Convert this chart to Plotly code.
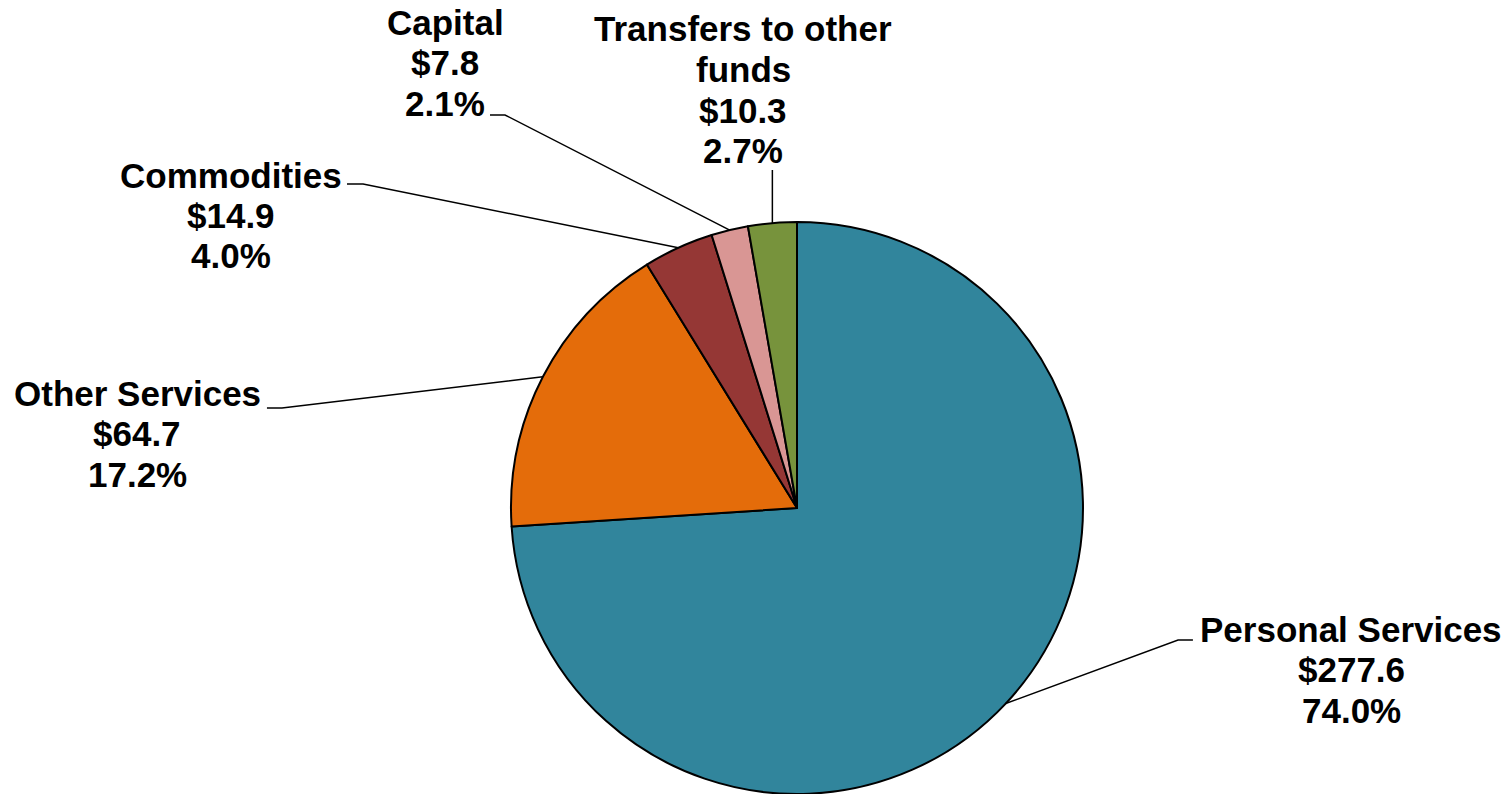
import math
import plotly.graph_objects as go

# ---- data ----
categories = ["Personal Services", "Other Services", "Commodities", "Capital", "Transfers to other funds"]
values = [277.6, 64.7, 14.9, 7.8, 10.3]
colors = ["#31859C", "#E46C0A", "#953735", "#D99694", "#77933C"]
label_lines = [["Personal Services"], ["Other Services"], ["Commodities"], ["Capital"], ["Transfers to other", "funds"]]

# page body has an 8px default margin; figure sized to fit the window
OFF = 8
FW, FH = 1510 - OFF, 794 - OFF
R = 286.0
CXF = 797 - OFF              # pie centre in figure pixels
DOM_Y = [0.0, 2 * R / FH]
CYF = FH - R
half_w = (R + 2) / FW
DOM_X = [CXF / FW - half_w, CXF / FW + half_w]

def px(x):
    return (x - OFF) / FW

def py(y):
    return 1 - (y - OFF) / FH

fig = go.Figure(go.Pie(
    labels=categories, values=values, sort=False, direction="clockwise", rotation=0,
    marker=dict(colors=colors, line=dict(color="black", width=2)),
    textinfo="none", hoverinfo="label+value+percent", showlegend=False,
    domain=dict(x=DOM_X, y=DOM_Y),
))

total = sum(values)
label_layout = [
    dict(cx=1351, base=641, line_gap=40.5, path=[(1193, 640), (1178, 640)]),
    dict(cx=137, base=405, line_gap=40.5, path=[(267, 408), (282, 408)]),
    dict(cx=231, base=187, line_gap=40.5, path=[(347, 184), (363, 184)]),
    dict(cx=445, base=35, line_gap=40, path=[(490, 115), (505, 115)]),
    dict(cx=743, base=41, line_gap=40.5, path=[None]),
]

annotations = []
shapes = []
cum = 0.0
for i, v in enumerate(values):
    mid = (cum + v / 2) / total * 2 * math.pi
    cum += v
    ex = CXF + OFF + R * math.sin(mid)
    ey = CYF + OFF - R * math.cos(mid)
    pct = v / total * 100
    lines = label_lines[i] + ["$%.1f" % v, "%.1f%%" % pct]
    lay = label_layout[i]
    for j, t in enumerate(lines):
        b = lay["base"] + j * lay["line_gap"]
        annotations.append(dict(
            x=px(lay["cx"]), y=py(b - 12), xref="paper", yref="paper",
            text=t, showarrow=False, xanchor="center", yanchor="middle",
            borderpad=0,
            font=dict(family="Liberation Sans, Arial, sans-serif", size=35, color="black", weight="bold"),
        ))
    if lay["path"][0] is None:
        pts = [(ex, 170), (ex, ey)]
    else:
        pts = lay["path"] + [(ex, ey)]
    d = "M " + " L ".join("%.4f,%.4f" % (px(x), py(y)) for x, y in pts)
    shapes.append(dict(type="path", path=d, xref="paper", yref="paper",
                       line=dict(color="black", width=1.5)))

fig.update_layout(
    width=FW, height=FH, margin=dict(l=0, r=0, t=0, b=0),
    paper_bgcolor="white", plot_bgcolor="white",
    annotations=annotations, shapes=shapes,
)

fig.write_html("out.html")
